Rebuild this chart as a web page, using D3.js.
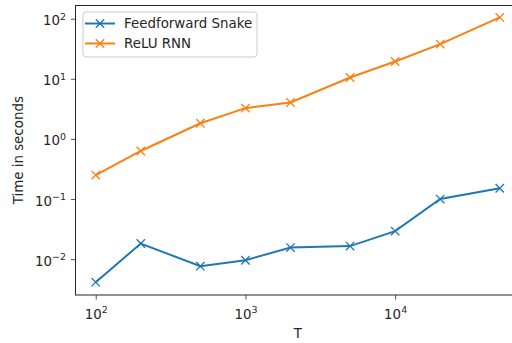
<!DOCTYPE html>
<html>
<head>
<meta charset="utf-8">
<script src="https://cdn.jsdelivr.net/npm/d3@7"></script>
<style>
  body { margin: 0; background: #fff; }
  text { font-family: "DejaVu Sans", sans-serif; fill: #262626; }
</style>
</head>
<body>
<div id="chart"></div>
<script>
const T = [100, 200, 500, 1000, 2000, 5000, 10000, 20000, 50000];
const snakeTimes = [0.00414, 0.0182, 0.00764, 0.0096, 0.0156, 0.0165, 0.0293, 0.1, 0.151];
const rnnTimes = [0.25, 0.63, 1.82, 3.25, 4.03, 10.5, 19.4, 37.8, 105];
const seriesNames = ['Feedforward Snake', 'ReLU RNN'];
const seriesColors = ['#1f77b4', '#ff7f0e'];
const xTicks = [100, 1000, 10000];
const yTicks = [0.01, 0.1, 1, 10, 100];

const W = 512, H = 343;
const MARGIN = {top: 5.5, left: 75.5, bottom: 48, right: -8};
const FS = 13.4;

const svg = d3.select('#chart').append('svg')
  .attr('width', W).attr('height', H);

const x = d3.scaleLog()
  .domain([Math.pow(10, 1.865), Math.pow(10, 4.834)])
  .range([MARGIN.left, W - MARGIN.right]);

const y = d3.scaleLog()
  .domain([Math.pow(10, -2.596), Math.pow(10, 2.219)])
  .range([H - MARGIN.bottom, MARGIN.top]);

function powLabel(sel, v) {
  const e = Math.round(Math.log10(v));
  sel.text(null);
  sel.append('tspan').text('10');
  sel.append('tspan').attr('dy', -5.5).attr('font-size', 9.5)
    .text(e < 0 ? '\u2212' + Math.abs(e) : e);
}

// minor ticks
const xMinor = [];
for (let d = 1; d <= 4; d++) for (let k = 2; k <= 9; k++) xMinor.push(k * Math.pow(10, d));
const yMinor = [];
for (let d = -3; d <= 2; d++) for (let k = 2; k <= 9; k++) yMinor.push(k * Math.pow(10, d));

const xAxis = svg.append('g')
  .attr('transform', 'translate(0,' + (H - MARGIN.bottom) + ')');
xAxis.call(d3.axisBottom(x).tickValues(xMinor.filter(v => v >= x.domain()[0] && v <= x.domain()[1]))
  .tickSize(2.5).tickFormat(''));
xAxis.call(d3.axisBottom(x).tickValues(xTicks).tickSize(4.5).tickPadding(5).tickFormat(''));
xAxis.selectAll('.domain').remove();
xAxis.selectAll('line').attr('stroke', '#262626').attr('stroke-width', 0.8);
xAxis.selectAll('.tick').filter(d => xTicks.includes(d)).select('text')
  .attr('font-size', FS).attr('dy', '1.05em').attr('fill', '#262626')
  .each(function(d) { powLabel(d3.select(this), d); });

const yAxis = svg.append('g')
  .attr('transform', 'translate(' + MARGIN.left + ',0)');
yAxis.call(d3.axisLeft(y).tickValues(yMinor.filter(v => v >= y.domain()[0] && v <= y.domain()[1]))
  .tickSize(2.5).tickFormat(''));
yAxis.call(d3.axisLeft(y).tickValues(yTicks).tickSize(4.5).tickPadding(5).tickFormat(''));
yAxis.selectAll('.domain').remove();
yAxis.selectAll('line').attr('stroke', '#262626').attr('stroke-width', 0.8);
yAxis.selectAll('.tick').filter(d => yTicks.includes(d)).select('text')
  .attr('font-size', FS).attr('dy', '0.45em').attr('fill', '#262626')
  .each(function(d) { powLabel(d3.select(this), d); });

// spines
svg.append('rect')
  .attr('x', MARGIN.left).attr('y', MARGIN.top)
  .attr('width', x.range()[1] - MARGIN.left)
  .attr('height', y.range()[0] - MARGIN.top)
  .attr('fill', 'none').attr('stroke', '#262626').attr('stroke-width', 1);

// axis labels
svg.append('text')
  .attr('x', (x.range()[0] + x.range()[1]) / 2).attr('y', 338)
  .attr('text-anchor', 'middle').attr('font-size', FS).text('T');
svg.append('text')
  .attr('transform', 'translate(23,' + ((y.range()[0] + y.range()[1]) / 2) + ') rotate(-90)')
  .attr('text-anchor', 'middle').attr('font-size', FS).text('Time in seconds');

// series
const allSeries = [snakeTimes, rnnTimes];
const line = d3.line().x((d, i) => x(T[i])).y(d => y(d));
const M = 4.2;
allSeries.forEach((vals, s) => {
  const g = svg.append('g');
  g.append('path').datum(vals)
    .attr('fill', 'none').attr('stroke', seriesColors[s])
    .attr('stroke-width', 2).attr('d', line);
  g.selectAll('path.m').data(vals).join('path')
    .attr('class', 'm')
    .attr('d', (d, i) => {
      const cx = x(T[i]), cy = y(d);
      return `M${cx - M},${cy - M}L${cx + M},${cy + M}M${cx - M},${cy + M}L${cx + M},${cy - M}`;
    })
    .attr('stroke', seriesColors[s]).attr('stroke-width', 1.3);
});

// legend
const lg = svg.append('g').attr('transform', 'translate(83,12)');
lg.append('rect').attr('width', 174).attr('height', 45).attr('rx', 3)
  .attr('fill', 'rgba(255,255,255,0.8)').attr('stroke', '#cccccc');
seriesNames.forEach((name, i) => {
  const yy = 11.5 + i * 20;
  lg.append('line').attr('x1', 2).attr('x2', 32).attr('y1', yy).attr('y2', yy)
    .attr('stroke', seriesColors[i]).attr('stroke-width', 2);
  lg.append('path')
    .attr('d', `M${17 - M},${yy - M}L${17 + M},${yy + M}M${17 - M},${yy + M}L${17 + M},${yy - M}`)
    .attr('stroke', seriesColors[i]).attr('stroke-width', 1.3);
  lg.append('text').attr('x', 41).attr('y', yy).attr('dy', '0.35em')
    .attr('font-size', FS).text(name);
});
</script>
</body>
</html>
